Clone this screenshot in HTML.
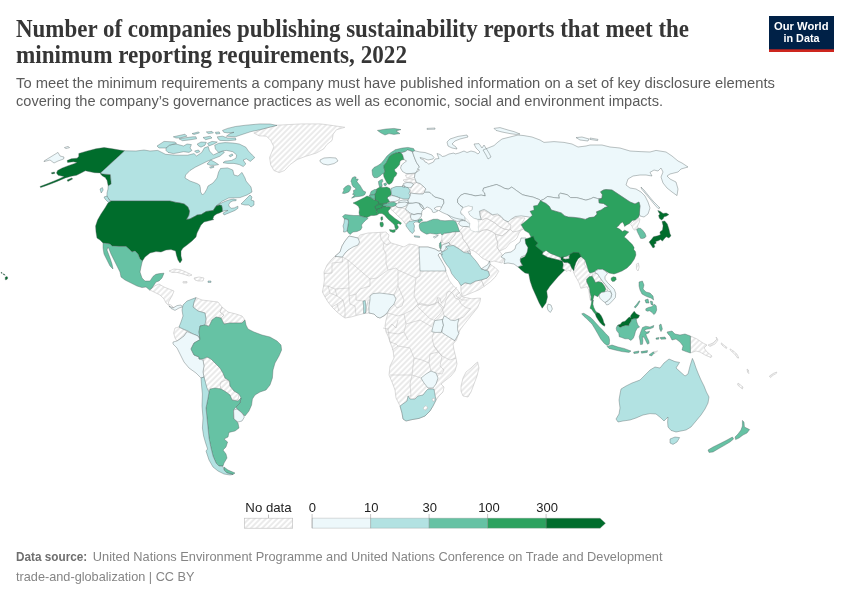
<!DOCTYPE html>
<html lang="en">
<head>
<meta charset="utf-8">
<title>Number of companies publishing sustainability reports that meet the minimum reporting requirements, 2022</title>
<style>
html,body{margin:0;padding:0;background:#fff;}
body{width:850px;height:600px;overflow:hidden;position:relative;}
svg{position:absolute;left:0;top:0;display:block;}
.title{font-family:"Liberation Serif",serif;font-weight:700;font-size:24.5px;fill:#363636;}
.sub{font-family:"Liberation Sans",sans-serif;font-size:14.75px;fill:#5b5b5b;}
.foot{font-family:"Liberation Sans",sans-serif;font-size:12.7px;fill:#858585;}
.leg{font-family:"Liberation Sans",sans-serif;font-size:13px;fill:#222;}
.logo{font-family:"Liberation Sans",sans-serif;font-weight:700;font-size:10.8px;fill:#fff;text-anchor:middle;}
.nd path{fill:url(#hatch);stroke:#b8b8b8;stroke-width:.5;stroke-linejoin:round;}
.bd path{fill:none;stroke:#bcbcbc;stroke-width:.5;stroke-linejoin:round;}
.ct path{stroke:#4d5c5c;stroke-opacity:.75;stroke-width:.5;stroke-linejoin:round;}
.wt path{fill:#fff;stroke:#b9c4c6;stroke-width:.4;}
</style>
</head>
<body>
<svg width="850" height="600" viewBox="0 0 850 600">
<defs>
<pattern id="hatch" patternUnits="userSpaceOnUse" width="4" height="4" patternTransform="rotate(-45 2 2)">
<rect width="4" height="4" fill="#fff"/>
<path d="M-1,2 l6,0" stroke="#ccc" stroke-width="0.8"/>
</pattern>
</defs>
<rect width="850" height="600" fill="#fff"/>

<text class="title" x="16" y="37" textLength="673" lengthAdjust="spacingAndGlyphs">Number of companies publishing sustainability reports that meet the</text>
<text class="title" x="16" y="62.6" textLength="391" lengthAdjust="spacingAndGlyphs">minimum reporting requirements, 2022</text>
<text class="sub" x="16" y="87.6" textLength="759" lengthAdjust="spacingAndGlyphs">To meet the minimum requirements a company must have published information on a set of key disclosure elements</text>
<text class="sub" x="16" y="105.8" textLength="647" lengthAdjust="spacingAndGlyphs">covering the company’s governance practices as well as economic, social and environment impacts.</text>

<g>
<rect x="769" y="16" width="65" height="36" fill="#002147"/>
<rect x="769" y="49.3" width="65" height="2.7" fill="#ce261e"/>
<text class="logo" x="801.3" y="30.4" textLength="54.5" lengthAdjust="spacingAndGlyphs">Our World</text>
<text class="logo" x="801.5" y="42.4" textLength="36" lengthAdjust="spacingAndGlyphs">in Data</text>
</g>

<g id="map">
<g class="nd"><path d="M349,236 L358,238 L360,235 L368,233 L380,232.4 L386,232 L389,235 L388,239 L391,243 L398,245 L404,247 L409,244 L416,245 L420,247 L428,247 L435,249 L439,251 L441,250 L442.4,255 L440,253 L438,255 L441,260 L445.3,270 L447,274.7 L449.4,280.6 L453,285.3 L457.6,290 L460.6,294.7 L461.8,296.5 L465.9,297.6 L471.8,298.8 L477.6,298.2 L480.6,298.2 L480,301.8 L477.6,307.6 L472.9,313.5 L468.2,319.4 L463.5,325.3 L460,330 L458.2,334.7 L456.5,340 L453,344 L454,350 L456,358 L457,364 L455,371 L451,376 L446,380 L441,384 L444,387 L443,392 L439,396 L436,400 L433,406 L430,411 L425,416 L419,418.4 L412,419.6 L406,421 L403,419 L402,413 L400,406 L399,404 L396,398 L395,390 L392,382 L389,375 L390,366 L394,358 L393,350 L390,342 L388,336 L386,332 L385,326 L386,320 L388,313 L384,316 L380,318 L377,317 L374,314 L369,313 L364,313.6 L358,315 L351,317 L345,318 L342,316 L337,312 L332,307 L328,302 L325,297 L322.4,292 L323.6,286 L324.4,280 L324,272 L327,265 L331,260 L335,256 L340,252 L342,246 L345,241Z"/><path d="M461,386 L463,378 L466,372 L471,368 L475,364 L477.6,362 L479,368 L477,376 L474,384 L471,392 L468,397 L463,396 L461,391Z"/><path d="M253.8,133 L263.3,128.8 L277.1,125.2 L301.4,123.9 L320.5,123.9 L333.2,125.6 L344.8,127.3 L336.4,129.8 L333.2,134.1 L332.1,140.4 L326.8,144.6 L323.7,148.9 L316.2,153.1 L305.7,156.3 L297.2,159.5 L289.8,164.8 L284.5,170.5 L279.2,172.6 L273.9,170.5 L270.7,164.8 L269.6,157.4 L271.8,152.1 L273.9,146.8 L270.7,140.4 L266.5,136.2 L259.1,135.8Z"/><path d="M169,271 L174,269 L180,269.6 L186,272 L192,275 L189,276 L183,274 L177,272.4 L172,272.4Z"/><path d="M194,278 L199,277 L204,278 L203,281 L198,281 L195,280Z"/><path d="M183,281.6 L187,281.6 L187,283 L183,283Z"/><path d="M149.6,290 L154.4,286 L159,284 L164,287 L169,289 L174,291 L172,296 L169,301 L168,304 L171,305 L174,308 L171,307.6 L166,303 L164,299 L160,295 L156,293 L152,291Z"/><path d="M196,297.6 L202,300 L210,301 L218,302 L222,307 L220,312 L224,315 L221,318 L216,317 L212,320 L209,326 L206,325 L206,319 L205,313 L198,311 L193,307 L194,302Z"/><path d="M222,307 L228,312 L236,314 L242,316 L245,320 L242,323 L236,323 L230,323 L224,324 L221,318 L224,315 L220,312Z"/><path d="M175,328 L179,327 L183,329 L187,331.6 L184,336 L180,339 L177,341 L175,338 L173.6,333Z"/><path d="M203,360 L207,357 L211,359 L216,364 L220,368 L223,373 L225,378 L229.6,381 L230,386 L226,384 L221,386 L220,389 L215,392 L210,393 L207,389 L205,384 L204,377 L203,372 L204,366Z"/><path d="M221,382 L226,380 L229,381 L230,386 L234,391 L239,394 L238,400 L232,400 L230,395 L226,392 L221,389 L220,385Z"/><path d="M405.5,175 L410,174 L415,173.5 L414.5,177.5 L410,178.5 L406.5,177.5Z"/><path d="M403,180 L407,179 L411,179 L415.5,180 L416.5,182.5 L413,183 L409,182 L405,182Z"/><path d="M413.5,184 L416.5,182.5 L420,183.5 L423,186 L426,189 L424.5,191.5 L423,194 L419,194 L414,193.5 L410.5,193 L410,190 L412,186.5Z"/><path d="M391,207.5 L395.5,205.8 L398,207.8 L402,207.8 L406,209.2 L407,211.8 L410,213.8 L410.5,216.5 L411.5,219 L409,221 L407,222.5 L405.5,224 L404,222 L402,219.5 L399,217 L396,214 L393,211 L391,209.5Z"/><path d="M442,234.5 L448,232.5 L456,231.5 L455,235 L452,238.5 L449,242.5 L445,244 L442,242 L441.8,240Z"/><path d="M440.5,241 L441.8,240 L442,242 L441,242.8Z"/><path d="M456,231.5 L459.5,231 L462,234 L463,239 L467,244 L469.5,249.5 L470,252 L467,251.5 L464,252 L460,249.5 L455,246 L450,244.5 L449,242.5 L452,238.5 L455,235Z"/><path d="M459.5,231 L463.5,226.5 L467,226.5 L469.5,227 L471,229 L474,231.5 L479,232 L483,230 L487,229.5 L492,231.5 L495.5,234 L496.5,239 L498,243 L497,247 L499.5,251 L504.5,258 L502,263 L498,262 L494,261 L490,262 L486,260 L482,258 L478,254 L474,251 L470,249.5 L467,244 L463,239 L462,234Z"/><path d="M475.5,220 L480,218 L482,220 L486,218 L490,220 L495,223 L500,227 L504.5,229 L509,230 L506,233 L502,236 L498,235 L495.5,234 L492,231.5 L487,229.5 L483,230 L479,232 L476,229 L474.5,225 L477,223Z"/><path d="M480,211.5 L484,210.5 L489,213 L494,216 L499,215.5 L503,219 L507,221.5 L511,223 L515,221 L518,222 L520,225 L515,226 L512,228 L509,230 L504.5,229 L500,227 L495,223 L490,220 L486,218 L482,220 L480,218 L481,215Z"/><path d="M495.5,234 L498,235 L502,236 L506,233 L509,230 L512,228 L515,226 L520,225 L524,224 L529,225 L526,227 L522,229 L519,233 L517,238 L515,240 L510,243 L506,248 L502,250 L499.5,251 L497,247 L498,243 L496.5,239Z"/><path d="M508,220 L516,217.6 L525,218 L521,225 L524,229 L518,231 L513,232 L510,229 L511,225 L508,223Z"/><path d="M460.9,285.7 L465,282.8 L470.2,284 L475.5,281.1 L481.3,279.9 L484.2,286.3 L479,289.8 L472,292.7 L465,295.6 L462.1,296.2 L460.9,291Z"/><path d="M490.1,264.2 L495.3,267.7 L498.8,271.2 L495.3,277 L490.6,281.6 L484.2,286.3 L481.3,279.9 L487.1,278.1 L489.5,275.2 L488.3,271.2 L487.1,269.8 L488.3,267.7Z"/><path d="M636.4,264 L638.4,263 L639.2,267 L638,271 L636.4,269Z"/><path d="M630.6,224.2 L633,221.7 L635.9,219.9 L638.7,217.8 L639.8,219.2 L639.4,222.1 L638,224.9 L637.3,227 L638.7,228.1 L636.6,229.1 L634.8,230.2 L633,228.8 L632,226.3Z"/><path d="M543,252 L546,249.7 L550.5,252.7 L555.7,255 L561,257.2 L561,259.8 L559.5,260.2 L553.5,258.7 L547.5,257.2 L542.2,254.2Z"/><path d="M563.2,256.8 L566.2,255.7 L569.2,256.5 L569.2,258.7 L565.5,259.2 L563.2,258.7Z"/><path d="M562.5,261 L564,262.5 L567.7,262.5 L570,264 L571.5,267.7 L570.7,271.5 L568.5,270 L567,271.5 L564.7,270 L562.5,268.5 L563.2,264.7Z"/><path d="M573.3,271.7 L576.7,265.8 L579.2,260 L582.5,256.7 L585,260 L584.2,264.2 L586.7,267.5 L589.6,270.4 L592.1,272.9 L592.5,275 L592.1,276.2 L589.2,276.7 L586.7,279.2 L586.7,281.7 L587.9,284.2 L589.6,288.3 L590,292.5 L590.8,296.7 L590.4,300 L589.6,296.7 L588.8,290 L586.7,286.7 L584.2,287.5 L580.8,288.3 L579.2,283.3 L577.1,279.2 L575,275.8Z"/><path d="M592.5,275 L595,272.9 L597.5,273.8 L598.8,275.8 L600.8,278.8 L602.9,281.7 L605,284.2 L607.1,287.5 L607.5,290.8 L605.8,289.2 L604.2,285.8 L601.7,282.5 L598.3,281.7 L595.4,282.5 L594.2,280 L592.1,276.2Z"/><path d="M653,352 L657.6,351 L654.4,353.6Z"/><path d="M690.4,336 L697,339 L703,343 L707,345 L704,348 L707,352 L712,356 L711,357.6 L705,355 L700,352 L696,351 L690.4,353Z"/><path d="M708,345 L713,343 L717,339 L716,337 L718,340 L715,344 L710,346.4Z"/><path d="M738,383 L743,387 L742.4,389 L737.6,385Z"/><path d="M747,369 L748.4,370 L748.8,373.6 L747.6,372.4Z"/><path d="M721.3,342.9 L723.9,345.1 L727,347.5 L726.4,348.5 L723.3,346.3 L721.3,344.3Z"/><path d="M730.2,348.9 L733.8,351.3 L737.3,354.6 L738.7,358.1 L737.3,357.8 L735.5,355 L732.4,352.2 L730.1,349.9Z"/><path d="M769.3,376.2 L773.3,373.4 L776.8,372 L776.4,373.4 L773,375.3 L770.5,377.6Z"/><path d="M423,408 L426,405.6 L428,408 L425,410.4Z"/><path d="M432,399 L434.4,398 L435,400.4 L433,401.6Z"/></g>
<g class="bd"><path d="M335,256.4 L342.4,257 L342.4,262 L332,263 L332,273 L324,273.6"/><path d="M342.4,257 L348,260 L349,288 L335,289 L328,286 L323.6,286"/><path d="M348,260 L370,279 L377,278 L388,270 L396,268"/><path d="M380,232.4 L381,239 L384,243 L383,248 L386,254 L386,263 L388,270"/><path d="M384,243 L387,245 L391,243"/><path d="M396,268 L398,270 L416,278 L420,276 L420,271"/><path d="M398,270 L398,286 L394,295"/><path d="M370,279 L370,286 L360,289 L356,294 L349,296 L349,288"/><path d="M416,278 L415,286 L414,296 L418,304 L428,306 L438,302 L444,308"/><path d="M457,287 L450,294 L446,300 L444,308 L440,314 L434,320"/><path d="M460,292 L456,296 L462,300 L467,300"/><path d="M398,286 L404,300 L402,306 L397,308 L394,304"/><path d="M418,304 L412,310 L404,314 L398,316 L388,313"/><path d="M356,294 L356,300 L363,301"/><path d="M349,296 L350,304 L355,306 L356,315"/><path d="M335,289 L337,296 L343,300 L345,308 L345,318"/><path d="M328,286 L330,293 L325,297"/><path d="M330,293 L337,296"/><path d="M337,304 L343,300"/><path d="M332,307 L337,304 L339,311"/><path d="M365.6,313 L368,300 L370,300"/><path d="M404,314 L406,324 L404,332 L398,334 L386,332"/><path d="M406,324 L420,320 L432,327"/><path d="M404,332 L408,340"/><path d="M461.8,296.5 L458.8,299.4 L461.2,304.1 L465.9,307.6 L470.6,308.8 L463.5,317.1 L458.8,318.8"/><path d="M458.8,299.4 L455.3,298.2 L452.9,293.5 L449.4,291.2 L447.1,292.4 L445.9,297.1 L441.2,302.9 L440,298.2 L437.6,297.6 L438.8,304.1 L442.4,308.8 L444.1,315.9"/><path d="M437.6,297.6 L435.3,304.1 L429.4,305.3 L423.5,304.1 L420,302.9 L417.6,306.5 L423.5,312.4 L429.4,318.2 L434.7,320.6"/><path d="M392,350 L398,346 L410,348 L414,358 L422,360 L429,363 L431,371"/><path d="M390,375 L402,375 L412,375 L421,378"/><path d="M412,375 L410,384 L411,396 L408,396"/><path d="M414,358 L413,366 L412,375"/><path d="M429,363 L430,354 L438,352 L442,356 L440,366 L444,370 L442,374 L436,373"/><path d="M434,332 L432,338 L434,346 L438,352"/><path d="M442,330 L446,334 L451,338 L455,341"/><path d="M434,346 L442,356"/><path d="M442,356 L450,360 L456,358"/><path d="M383,328 L388,329 L390,342"/><path d="M390,342 L396,344 L398,346"/><path d="M388,329 L392,324 L396,328 L398,320"/></g>
<g class="ct">
<path fill="#006d2c" d="M124.7,150.8 L119.4,150 L112.4,148.8 L104.1,147.6 L95.9,148.8 L86.5,151.2 L78.8,153.5 L78.8,156.5 L77.1,158.2 L71.2,158.8 L67.1,160.6 L67.6,162.4 L73.5,161.8 L77.1,162.4 L74.7,163.5 L67.6,165.9 L61.8,168.2 L57.6,170.6 L56.5,172.9 L58.2,175.3 L64.1,176.5 L59.4,178.8 L53.5,181.2 L46.5,184.1 L40,186.5 L40.6,187.6 L45.3,185.9 L51.2,183.8 L57.1,181.4 L61.8,179.4 L65.3,177.9 L71.2,176.2 L76.5,175.3 L80.6,173.2 L85.3,170.8 L90,171.8 L94.7,172.7 L100.6,172.9 L103,174 L110.4,174.6 L110.8,179 L111.2,184.1 L108.2,185.9 L107.1,180.6 L105.3,177.6 L102.4,175.9 L100.6,174.1 L100.6,172.9Z"/>
<path fill="#edf8fb" d="M44,161 L58,152.4 L60,156 L64,157 L63.6,159 L58,161 L54,163 L50,160 L44,161.6Z"/>
<path fill="#006d2c" d="M67.1,180 L71.8,177.9 L72.6,179.1 L67.9,181.4Z"/>
<path fill="#006d2c" d="M51.4,172.7 L54.5,172 L54.7,173.4 L51.9,173.9Z"/>
<path fill="#edf8fb" d="M64.4,147.6 L68,146.4 L69.6,147.6 L66,148.6Z"/>
<path fill="#006d2c" d="M5.2,277.2 L7,276.5 L7.9,278 L6.8,279.5 L5.3,279.8Z"/>
<path fill="#006d2c" d="M1,272.3 L2,272.6 L2.2,273.3 L1.2,273.2Z"/>
<path fill="#006d2c" d="M3,273.8 L4.4,274.2 L5.2,275.2 L3.6,274.8Z"/>
<path fill="#b2e2e2" d="M124.7,150.8 L136,151 L144,150 L150,151 L157.8,150.4 L165.5,154.3 L175.9,155.2 L187.5,155.2 L194,153.6 L196.6,156 L201.8,152.4 L204.4,147.8 L208.2,146.5 L209.5,151 L213.4,155 L218.6,152.4 L222.5,151 L224.4,152.4 L219.9,156.2 L213.4,158.8 L207,161.4 L201.8,164 L195.3,167.2 L190,170.5 L185.6,175 L185,178 L190,181 L197,183.5 L199.6,185 L200.3,187.5 L200.6,192 L202.5,195 L204.7,192.8 L206.8,189.2 L208,186 L213,183 L217,178 L218.6,172 L220.5,168.5 L227.6,167.9 L232.8,170 L234,175 L238,176 L242,172.4 L245,178 L246,181 L251,187 L252,192 L247,195 L240,197.6 L228.7,198 L222.3,201.2 L218.1,204.4 L216,206.2 L219.5,204 L223.8,201.9 L228,200.2 L230.8,199.5 L233.6,199.1 L236.5,199.8 L235.8,200.7 L232.9,200.9 L230.1,202.3 L228.7,204.8 L229.4,206.9 L231.5,208.3 L234.3,207.9 L237.9,206.2 L237.9,208.3 L235,210.4 L230.8,212.2 L226.6,213.9 L224.1,215 L223,213.2 L225.2,211.8 L228,210.4 L225.2,210.5 L222.3,211.5 L222.2,208.3 L221.6,205.5 L219.5,205.1 L216,206.2 L213.2,210.4 L206.1,211.5 L201.2,214.6 L197,215 L195.5,216 L189.9,218.9 L186.4,219.6 L188.8,215.3 L189.5,211.1 L187.8,206.9 L184.2,204 L180,203 L176,202.4 L170,201 L111,201 L109,199 L107,197 L107,193 L108,189 L108.2,185.9 L111.2,184.1 L110.8,179 L110.4,174.6 L103,174 L100.6,172.9Z"/>
<path fill="#b2e2e2" d="M241,204 L246,199 L250,195 L252,197 L251,200 L254,201 L254,205 L251,207 L249,205 L245,205Z"/>
<path fill="#b2e2e2" d="M104,197 L107,196 L110,201 L111,204 L108,202 L105,199Z"/>
<path fill="#b2e2e2" d="M100,189 L102.4,187.6 L103.2,190 L101.2,193Z"/>
<path fill="#b2e2e2" d="M222.5,130.4 L227.6,128.4 L235.4,126.5 L245.8,125.2 L260,123.9 L270,124 L277,125.4 L268,127.6 L260,129.7 L251,131.6 L243,134.2 L235.4,136.8 L226.4,136.2 L230,133.6 L234,132.3 L227.6,132.9 L223.8,132.3Z"/>
<path fill="#b2e2e2" d="M166,148 L169.4,145 L176,144 L183.6,146 L187,144 L191.4,144.6 L190,148 L192,150.4 L189,152.4 L183.6,151.7 L177,153 L173.3,153.6 L168,152.4 L166,150.4Z"/>
<path fill="#b2e2e2" d="M157,146 L164,141.4 L174.6,142 L176.5,143.3 L169.4,145.2 L166,148 L159,148Z"/>
<path fill="#b2e2e2" d="M173.3,136.8 L185,134.2 L187,136.2 L179.8,138 L176,138Z"/>
<path fill="#b2e2e2" d="M179,138.8 L183.6,138 L192.7,136.8 L196,136.8 L196.6,138.8 L188.8,140 L182.4,140.7Z"/>
<path fill="#b2e2e2" d="M192,133.6 L198.5,131.9 L199.4,132.9 L194,134.5Z"/>
<path fill="#b2e2e2" d="M203,137.5 L210.2,136.2 L212,138 L205.6,139.7Z"/>
<path fill="#b2e2e2" d="M206.3,131.9 L212,131.4 L213.4,132.9 L208.2,133.6Z"/>
<path fill="#b2e2e2" d="M215.4,132.3 L219.2,131.9 L220,133.6 L216,134Z"/>
<path fill="#b2e2e2" d="M197.2,144 L201,142 L206.3,142.3 L205,145.2 L201,147.2 L198.5,145.9Z"/>
<path fill="#b2e2e2" d="M207.6,143.3 L212,141.4 L217.3,142 L214,144 L208.9,145.9Z"/>
<path fill="#b2e2e2" d="M194.6,151 L198.5,150 L199.8,151.7 L196.6,153Z"/>
<path fill="#b2e2e2" d="M217.3,136.8 L222.5,136.2 L227.6,138 L235.4,138 L236,140 L227.6,140.7 L219.9,140.4 L218,138.8Z"/>
<path fill="#b2e2e2" d="M214.7,145.2 L218.6,143.3 L225,142.6 L232.8,143 L239.3,144 L245.8,147.2 L248.4,151 L252.2,155 L254.8,157.5 L250.3,161.4 L246.4,158.8 L243.2,160 L245.8,164 L243.2,166.6 L239.3,164.6 L234,163.4 L227.6,163.4 L223,162.7 L225,161.2 L231.5,160.4 L236,158.2 L236.7,155 L232.8,151.7 L226.4,150.4 L222.5,151 L218.6,152.4 L215.4,149Z"/>
<path fill="#b2e2e2" d="M229,155.6 L232.2,153.9 L233,155.2 L230.2,156.9Z"/>
<path fill="#b2e2e2" d="M207,164 L210.8,160 L214.7,162 L218.6,164.6 L214.7,165.3 L210.2,165.3Z"/>
<path fill="#b2e2e2" d="M209.5,167.2 L213.4,166 L214,167.2 L210.8,168.2Z"/>
<path fill="#edf8fb" d="M320,160 L324,158 L330,157.6 L336,158 L338,161 L334,163.6 L328,165 L323,164 L320,161.6Z"/>
<path fill="#006d2c" d="M111,201 L170,201 L176,202.4 L180,203 L184.2,204 L187.8,206.9 L189.5,211.1 L188.8,215.3 L186.4,219.6 L189.9,218.9 L195.5,216 L197,215 L201.2,214.6 L206.1,211.5 L213.2,210.4 L216,206.2 L219.5,205.1 L221.6,205.5 L222.2,208.3 L222.3,211.5 L219.5,212.9 L216.7,213.9 L213.9,216 L212.8,218.9 L213.9,219.6 L208,221 L204,222 L201,225 L199,229 L197,233 L196,237 L192,241 L187,245 L183,248 L181,251 L181,256 L182,260 L180,263 L178,260 L176.4,255 L175.6,251 L171,249.6 L166,250 L161,252 L156,251.6 L150,253 L145,257 L142.4,261 L140,259 L138,254 L135,251 L132,252 L129,249 L126,246.4 L119,246.4 L112,246 L110,244 L103,243 L100,240 L97,238 L96,232 L95.6,226 L97.6,220 L101,214 L105,208 L108,203Z"/>
<path fill="#66c2a4" d="M103,243 L110,244 L112,246 L119,246.4 L126,246.4 L129,249 L132,252 L135,251 L138,254 L140,259 L142.4,261 L141,267 L140,272 L142,278 L145,281 L150,281 L153,276.4 L155.9,274.3 L159.6,273.6 L164,273.2 L162,278 L159,281 L156,282 L154,285 L152,288 L149.6,290 L146,287 L142,287.6 L137,286 L131,283 L125,280 L121,277 L120,272 L117,266 L114,260 L111,254 L109,249 L108,247 L107,250 L110,258 L112,264 L113,269 L110,266 L107,260 L104,254 L103,248Z"/>
<path fill="#b2e2e2" d="M208,281 L211,281 L211,282.4 L208,282.4Z"/>
<path fill="#edf8fb" d="M169,306 L173,308 L177,305.6 L181,305 L182.4,307 L179,308 L175,310.4 L171,308.4Z"/>
<path fill="#b2e2e2" d="M183,305 L187,301 L196,297.6 L194,302 L193,307 L198,311 L205,313 L206,319 L205,325 L200,326 L199,332 L200,339 L198,336 L193,334 L188,331 L183,329 L179,327 L181,322 L183,316 L182,310Z"/>
<path fill="#edf8fb" d="M173,342 L177,341 L180,339 L184,336 L187,331.6 L193,334 L198,336 L200,339.6 L194,343 L191,349 L194,355 L199,357 L199,359 L203,360 L204,366 L203,372 L204,377 L201,378 L196,373 L189,368 L184,362 L180,354 L177,348 L173,344Z"/>
<path fill="#66c2a4" d="M200,326 L205,325 L209,326.4 L212,320 L216,317 L221,318 L224,324 L230,323 L236,323 L242,323 L245,320 L246,325 L248,329 L254,332 L262,335 L270,337 L277,341 L281,345 L281.6,350 L279,356 L275,363 L273,370 L272.4,378 L270,385 L266,390 L260,392 L255,395 L252.4,399 L251.6,405 L249,411 L245,416 L242,413 L237,409 L236,407 L240,403 L241,398 L239,394 L234,391 L230,386 L229.6,381 L225,378 L223,373 L220,368 L216,364 L211,359 L207,357 L203,359 L199,359 L199,357 L194,355 L191,349 L194,343 L200,339.6 L199,332Z"/>
<path fill="#66c2a4" d="M210,389 L215,388 L221,389 L226,392 L230,395 L232,400 L238,401 L241,398 L240,403 L236,407 L233.6,410 L233.6,418 L238,423 L239,428 L235,431 L229,432.4 L228,437 L224,439 L227.6,442 L226,447 L223,450 L226,454 L227,458 L224,463 L223,466 L219,466 L216,463 L213,456 L211,448 L209,438 L208,428 L207,418 L206,408 L208,398 L209,392Z"/>
<path fill="#66c2a4" d="M224,467 L228,470 L235,473 L233,474.4 L227,473 L224,470Z"/>
<path fill="#b2e2e2" d="M201,378 L204,377 L207,388 L209,392 L208,398 L206,408 L207,418 L208,428 L209,438 L211,448 L213,456 L216,463 L219,466 L223,466.4 L224,470 L227,473 L233,474.4 L230,475 L224,474 L218,471 L213,467 L209,460 L207,454 L206,451 L207.6,449 L205.6,443 L203.6,436 L202.4,428 L203,418 L202,406 L202.4,394 L201.6,386Z"/>
<path fill="#edf8fb" d="M233.6,410 L237,409 L242,413 L244.4,417 L242,421 L238,422 L234,419Z"/>
<path fill="#66c2a4" d="M377.4,130.4 L386,129 L394,128.4 L401,129.6 L396,131 L400,133.6 L394,134.4 L389,133.6 L385,135 L381,133Z"/>
<path fill="#66c2a4" d="M372,170 L374,167.5 L378,165.5 L381,163.5 L384,160 L387,156 L391,152.5 L395,150 L395,149.8 L399,148.8 L402.5,148 L408,147.4 L413.5,148.5 L414.8,150.8 L413,151.8 L410,150.5 L407.5,150 L405.5,151.5 L403.5,152.2 L401,152.8 L398,152.5 L395.5,153.3 L396,153 L392,154.5 L389.5,156.5 L388,159.5 L386.5,162.5 L384,165.5 L384,168 L385,171 L384,173.5 L382,174 L380,176 L377,177.8 L374,177.5 L372.5,175Z"/>
<path fill="#2ca25f" d="M396,153 L400,152.5 L398,152.5 L401,152.8 L402.5,154.5 L403,156 L404,159.5 L401.5,160 L400,161.5 L399.5,164.5 L397,167.5 L394.5,169.5 L395,171.5 L397,173 L396,175.5 L394,177.5 L393,180.5 L391.5,183 L389,184.5 L387,183 L385.5,180 L384,177 L383.5,174.5 L385,171.2 L384,168 L384,165.5 L386.5,162.5 L388,159.5 L389.5,156.5 L392,154.5Z"/>
<path fill="#edf8fb" d="M401,152.8 L403.5,152.2 L405.5,151.5 L407.5,150 L410,150.7 L412.5,152 L413.5,155 L415,159 L416.5,162.5 L419.5,167 L417.5,170 L415.5,173 L411,173.5 L406,173.5 L402.5,171.5 L400.5,168 L401.5,165 L404.5,162.5 L406.5,161 L404,159.5 L403,156 L402.5,154.5Z"/>
<path fill="#66c2a4" d="M378.4,181.6 L380.2,180.2 L382.3,179.2 L382.9,181.3 L381.6,183.1 L382.2,185.2 L382,186.8 L379.6,187.1 L378.8,184.5Z"/>
<path fill="#66c2a4" d="M383.7,183.8 L385.5,183.1 L386.9,184.1 L385.8,185.7 L384.4,185.4Z"/>
<path fill="#66c2a4" d="M350.9,181.3 L352.3,177.8 L354.4,176.7 L356.2,177.1 L355.5,178.8 L358.3,179.2 L356.9,181.6 L358.6,183.8 L360.1,185.5 L361.8,188.4 L363.2,190.8 L365.7,191.9 L365,194.4 L362.9,195.8 L359,196.5 L355.5,196.8 L351.6,198.2 L353,196.5 L355.1,195.1 L352.6,194.4 L353.7,192.6 L353.4,190.5 L355.8,189.4 L355.5,188 L353.4,186.9 L351.9,184.5 L351.6,182.7Z"/>
<path fill="#66c2a4" d="M342.4,193.3 L343.8,190.5 L343.5,188.7 L345.6,186.6 L348.1,185.2 L350.2,185.9 L350.9,187.6 L350.2,190.1 L348.8,191.9 L346.3,192.9 L344.2,193.6Z"/>
<path fill="#edf8fb" d="M403.5,183.5 L407,182.5 L411,182.8 L413.5,184 L412,186.5 L410,187.8 L406,187.5 L404,185.5Z"/>
<path fill="#b2e2e2" d="M391,188.5 L396,186.5 L402,186.5 L408,187.5 L410,190.5 L409,193.5 L410.5,196.5 L409,199 L404,199 L400,198 L396,196.5 L392,195.5 L391,192Z"/>
<path fill="#edf8fb" d="M388.5,196.5 L392,195.5 L396,196.5 L400,198 L399,200 L395,201.5 L391,201.5 L389.5,202 L388.5,200 L387,198Z"/>
<path fill="#edf8fb" d="M399,201 L403,200 L408,200.2 L408.5,203 L405,202.8 L401,203.3 L398.5,202.5Z"/>
<path fill="#edf8fb" d="M396.5,203.5 L400,202.5 L405,202 L408,203 L406,206 L402,207.5 L398,207.5 L395.5,205.5Z"/>
<path fill="#edf8fb" d="M408.5,203.5 L412.5,203 L416,202.5 L419,203 L420.5,206 L422.5,208.5 L424,209 L422,211 L421.5,214 L418,213.5 L414,214.5 L411,213.5 L408,211.5 L405.5,209 L407,206Z"/>
<path fill="#edf8fb" d="M419.5,203.5 L422,205 L423.5,207.5 L422.5,208.5 L420.5,206Z"/>
<path fill="#edf8fb" d="M411,214 L414,214.7 L418,213.7 L421.8,214.2 L421,217 L418.5,219 L417.5,220.5 L414.5,220.5 L411.5,219.5 L410.5,217Z"/>
<path fill="#edf8fb" d="M410.5,193 L414,193.5 L419,194 L423,194 L425,192 L429.5,192 L432,194.5 L435,197 L439,198 L443.5,199.5 L444,203 L442.5,205.5 L441.5,207.6 L439.7,206.5 L436.8,206.8 L434.4,208.2 L434.7,209.1 L436.2,210 L438.5,210.5 L435.6,212.1 L433.8,212.6 L432.6,212.1 L431.8,209.7 L429.7,208.2 L427.6,207.1 L425.9,207.6 L424.5,209.3 L423.5,207.5 L422,205 L419,203 L416,202.5 L412.5,203 L408.5,203 L408,200 L409,198.5 L410.5,195Z"/>
<path fill="#2ca25f" stroke="none" d="M374.5,200 L378.5,201.5 L384,203.5 L387,203.2 L386,206.2 L385,206.8 L382,208 L378.5,209.5 L376.5,211 L375.2,208.5 L374.8,206.5 L376.5,205.2 L378,203.5Z"/>
<path fill="#2ca25f" d="M376.5,189 L380,187 L383,187.5 L387,187 L390,188.5 L391,192 L391,195 L388.5,196.5 L387,198 L388.5,200 L389.5,202 L387,203 L384,203.5 L381,204 L378.5,203 L378,201 L375,200 L375,197 L374.5,194.5 L376,192Z"/>
<path fill="#66c2a4" d="M371,191.5 L374.5,189.5 L376.5,189.5 L376,192 L374.5,194.5 L372,195 L370,194.5Z"/>
<path fill="#66c2a4" d="M369,195 L372,195 L374.5,194.5 L375,197 L375,199.5 L372,198.5 L370,197Z"/>
<path fill="#2ca25f" d="M353,203 L356.5,201.5 L359.5,200 L361.5,199 L364.5,197.5 L367,196 L370,197 L372,198.5 L374.5,200 L378,201 L378.5,203 L377,205 L375,206.5 L375.5,208.5 L376.5,210.5 L377,212.5 L378.5,214 L377,215 L374,215.5 L371,215.5 L369,216.5 L367,217.5 L363,216.8 L359.5,215.5 L359,212.5 L359.5,209 L358.5,206.5 L356,204.5Z"/>
<path fill="#2ca25f" d="M381,217 L382.5,216.8 L382.8,219.5 L381.5,220.5 L380.8,219Z"/>
<path fill="#2ca25f" d="M380,222.5 L382.5,222 L383.5,224 L383,226.5 L381,227 L380,225Z"/>
<path fill="#2ca25f" d="M375,206.5 L377.5,205 L380,204.5 L382.5,205.5 L382,207.5 L379.5,208.5 L376.5,209 L375.5,208.5Z"/>
<path fill="#66c2a4" d="M383,204.5 L387,203.5 L390,202.5 L394,202 L396.5,203.5 L395.5,205.5 L393,206.5 L389,206.5 L386,206 L383,206Z"/>
<path fill="#2ca25f" d="M376.5,210.5 L378.5,209 L382,207.8 L385,206.5 L389,206.8 L391,207.5 L389.5,209.5 L388,211 L389,213.5 L392,216 L395,218.5 L398,220.5 L401.5,223 L400.5,224.5 L398.5,223.5 L397,224.5 L398.5,227 L397.5,229 L396,230 L395,227.5 L394.5,225 L392,222.5 L389,220 L386.5,217.5 L384.5,215 L382,213.5 L379.5,213.5 L378.5,214 L377,212.5Z"/>
<path fill="#2ca25f" d="M389.5,229.5 L392.5,230 L395.5,229.5 L395,232 L393,232.5 L390,231.2Z"/>
<path fill="#66c2a4" d="M342.5,216.5 L345,214.5 L349,215 L354,215.5 L359,215.5 L363,216.8 L367,217.5 L368,218.5 L366,220 L363.5,222.5 L361.5,225 L362,227.5 L360.5,230 L357,231.5 L353,232 L350,234.5 L348.5,233 L347,231 L347.5,228 L348,225 L348.5,222 L348,219.5 L344.5,219Z"/>
<path fill="#b2e2e2" d="M344.5,219 L348,219.5 L348.5,222 L348,225 L347.5,228 L347,231 L345,232 L343.5,232 L343.8,229 L343,226 L344,223Z"/>
<path fill="#b2e2e2" d="M406,224.5 L409,221.5 L412,221 L415,220.5 L419,220 L418,222 L415,222 L413.5,223.5 L414.5,226 L414,229 L414.5,231 L412.5,233.5 L410.5,232 L409,230 L407.5,228 L406,226Z"/>
<path fill="#b2e2e2" d="M414.2,235.8 L419.6,236.3 L419.6,237.5 L414.6,237Z"/>
<path fill="#66c2a4" d="M418.3,220.4 L419.6,219.2 L421.7,218.8 L422.5,220.4 L420.8,221.3 L419.6,223 L418.3,222.5Z"/>
<path fill="#66c2a4" d="M419.6,223.8 L422.5,222 L426.7,221.7 L430,220.4 L433.3,219.3 L437.5,219.2 L440.8,220.4 L445,220.8 L450,220.4 L453.3,220.4 L455.8,221.7 L457,224.2 L458,227 L459.6,231.7 L456.7,231.7 L452.5,232 L448.3,232.9 L444.2,233.3 L442,235 L440.4,233.3 L436.7,234.2 L433.3,233.8 L430,233.3 L426.7,234.2 L423.3,232.5 L420.8,230.8 L419.6,228.3 L419.2,225.8Z"/>
<path fill="#edf8fb" d="M433.3,237 L435.8,236 L438.3,235 L436.7,237 L434.6,238Z"/>
<path fill="#edf8fb" d="M447,214 L452,215.5 L457,217.5 L461,218.5 L463,220.5 L460,221 L457,221.5 L454,220 L451.5,218.5 L449,216Z"/>
<path fill="#edf8fb" d="M458.5,224 L460,221 L463,220.5 L466,221 L468.5,223 L470,224 L469.5,227 L467,226.5 L463.5,226.5 L461,226Z"/>
<path fill="#edf8fb" d="M442,245 L445,244 L449,242.5 L450,244.5 L446.5,247 L444,251 L441,252.5 L440.5,250Z"/>
<path fill="#66c2a4" d="M439.6,243.3 L440.8,242 L441.3,245 L440.7,249 L439.8,248.3 L439.3,245.8Z"/>
<path fill="#b2e2e2" d="M447.5,246.1 L453.3,245.5 L459.2,249 L463.8,252.5 L468.5,253.1 L470.2,254.2 L472.6,257.2 L476.1,261.2 L479,265.3 L481.3,268.8 L484.8,270 L488.3,271.2 L489.5,275.2 L487.1,278.1 L481.3,279.9 L475.5,281.1 L470.2,284 L465,282.8 L460.9,285.7 L458.6,281.6 L455.1,278.1 L451.6,273.5 L449.8,268.8 L446.3,264.2 L443.4,259.5 L441.1,254.8 L441.1,252.5 L444.6,250.7 L447.5,249 L445.7,246.7Z"/>
<path fill="#edf8fb" d="M467.6,251.1 L469.7,250.7 L470.6,253.7 L468.5,253.2Z"/>
<path fill="#edf8fb" d="M481.3,268.8 L484.8,266.5 L487.7,264.7 L489.5,261.2 L490.1,264.2 L488.3,267.7 L487.1,269.8 L484.8,270Z"/>
<path fill="#edf8fb" d="M526,238 L527,244 L529,250 L526,255 L521,257 L520,260 L522,265 L518,267 L514,264 L508,263 L504,263.6 L505,259 L501,257 L505,253 L511,252 L515,249 L516,245 L520,242 L521,238Z"/>
<path fill="#edf8fb" d="M414.8,150.8 L420,152 L425,152.5 L432,155 L434,157.5 L433,159 L428,160 L424,158.5 L420,157.5 L420.5,158.5 L424,160 L425,162 L427,162.5 L428.5,164.2 L433.5,162 L435,159 L439,158.5 L437,153.5 L440,154.5 L442.5,156.5 L445,156 L449,154 L454,153 L455,154 L459,153 L464,151 L467,152.5 L471,151 L475,152 L478,154 L480,152 L476,148 L474,144 L479,143.6 L482,148 L484,145 L489,153 L491,157 L488,159 L486,155 L483,150 L488,148 L494,145.6 L498,142 L502,139 L510,137 L518,135 L524,135.6 L532,137 L540,140 L544,142.4 L554,141.6 L564,142.4 L572,144 L578,147 L586,146 L590,145 L602,145 L610,147 L620,148 L630,151 L640,151.6 L650,152 L656,150.4 L666,152 L672,156 L678,161 L682,163 L688,167 L681,169 L678,172 L670,174 L667,176 L670,179 L676,182 L678,189 L677,195.6 L672,192 L667,188 L663,183 L661,177 L663,172 L661,168 L658,171 L654,170 L650,172.4 L652,176 L646,175 L640,175 L633,176 L628,179 L626,185 L630,188 L636,189 L641,192 L645,196 L648,202 L650,208 L648,214 L644,217 L640,216 L639,213 L640,206 L639,202 L635,204 L630,202 L624,198 L618,194 L612,190 L606,189.6 L603.5,190 L600.6,191.8 L602.4,194.7 L601.8,198.6 L597.6,198.6 L593.5,197.4 L590.6,198.8 L585.9,200.2 L581.2,198.8 L576.5,197.6 L570.6,197.6 L567.1,194.7 L560.6,193.2 L558.8,194.7 L559.4,198.2 L554.1,197.6 L547.6,196.5 L543.5,199.4 L540.6,200.6 L538.8,199.4 L533,197.1 L527.1,195.9 L522.4,194.7 L516.5,190.6 L511.8,187.1 L508.2,189.2 L504.1,188.2 L501.2,186.5 L496.5,184.5 L489.4,186.5 L483.5,188.2 L482.9,191.2 L484.7,192.9 L485.3,195.9 L481.2,195.1 L475.3,195.9 L470.6,194.7 L464.7,193.5 L460.6,195.3 L457.6,199.4 L457.6,202.4 L460,205.3 L462.9,207.1 L460.6,211.8 L461,214 L463,215 L465,217 L465,221 L463,219.5 L459,219 L455,218 L451,216.5 L447,214.5 L442.6,212.6 L439.2,210.7 L440.3,209.7 L441.5,207.6 L442.5,205.5 L444,203 L443.5,199.5 L439,198 L435,197 L432,194.5 L429.5,192 L425,192 L424.5,191.5 L426,189 L423,186 L420,183.5 L416.5,182.5 L415.5,180 L414.5,177.5 L415,173.5 L419.5,170 L417.5,169 L419.5,167 L416.5,162.5 L415,159 L413.5,155 L412.5,151.7Z"/>
<path fill="#edf8fb" d="M447,142 L450,139 L458,136.4 L467,135 L468,137 L460,139 L455,141 L452,144 L456,147 L457,149 L452,148 L448,146Z"/>
<path fill="#edf8fb" d="M494,128.4 L500,127.6 L508,130 L514,131.6 L520,134 L516,134.4 L510,133.6 L502,132 L496,130.4Z"/>
<path fill="#edf8fb" d="M427,128.4 L435,128 L435,129.2 L427,129.4Z"/>
<path fill="#edf8fb" d="M576,137.6 L582,137 L589,139 L588,141 L580,140Z"/>
<path fill="#edf8fb" d="M590,138 L598,139.4 L597.6,140.6 L590,139.4Z"/>
<path fill="#edf8fb" d="M641,187 L644,190 L648,195 L653,201 L657,205 L660,208 L658,208.4 L654,204 L650,199 L645,193 L641.6,189Z"/>
<path fill="#edf8fb" d="M402.5,185 L404,185.5 L405,187 L402.5,186.8Z"/>
<path fill="#edf8fb" d="M457.6,199.4 L460.6,195.3 L464.7,193.5 L470.6,194.7 L475.3,195.9 L481.2,195.1 L485.3,195.9 L484.7,192.9 L482.9,191.2 L483.5,188.2 L489.4,186.5 L496.5,184.5 L501.2,186.5 L504.1,188.2 L508.2,189.2 L511.8,187.1 L516.5,190.6 L522.4,194.7 L527.1,195.9 L533,197.1 L538.8,199.4 L540.6,200.6 L538.5,205.5 L535,211 L535.5,216 L530.6,217.4 L527.1,216.7 L521.2,215.9 L515.3,216.5 L511.8,218.8 L508.2,221.8 L504.1,220 L501.2,216.5 L497.6,214.1 L492.4,214.7 L488.2,211.8 L484.1,209.4 L479.4,211.2 L480,215.3 L481.2,219.4 L477.6,219.4 L473.5,218.2 L469.4,214.7 L468.2,211.8 L471.8,210 L472.4,206.8 L468.2,206.1 L463.5,207.6 L462.9,207.1 L460,205.3 L457.6,202.4Z"/>
<path fill="#edf8fb" d="M540.6,200.6 L543.5,199.4 L547.6,196.5 L554.1,197.6 L559.4,198.2 L558.8,194.7 L560.6,193.2 L567.1,194.7 L570.6,197.6 L576.5,197.6 L581.2,198.8 L585.9,200.2 L590.6,198.8 L593.5,197.4 L597.6,198.6 L601.8,198.6 L598.8,199.4 L599.1,202.9 L603.5,203.5 L608.2,206.5 L604.7,207.6 L601.2,210 L596.5,211.8 L597.1,214.1 L594.1,217.1 L589.4,217.6 L585.3,219.4 L580,218.2 L574.1,217.4 L568.2,217.1 L564.7,215.9 L561.2,212.9 L555.3,211.2 L551.2,210 L549.4,206.5 L545.9,203.5 L542.4,201.8Z"/>
<path fill="#2ca25f" d="M540.6,200.6 L537.6,205.3 L533.5,205.9 L534.1,210 L530,211.2 L532.4,215.3 L527.1,220 L521.2,224.7 L524.7,230.6 L529,233 L531,237 L534,240.6 L537,243.6 L534.4,246.4 L538.4,249.6 L542.4,252.8 L546,250.4 L550.4,253.4 L555.8,255.6 L561,257.8 L566.2,256.4 L570,254.8 L573.8,252.8 L579,253.2 L581.2,256.8 L585,260 L587,266 L589,272 L590,273 L594,272 L598,269 L604,270 L609,273 L614,274 L617,273 L622,271 L627,268 L631,264 L634.4,259 L635.9,255 L635.5,251.7 L633.8,249.6 L634.1,247.5 L632.3,244.6 L629.5,241.8 L626.7,239 L624.2,236.9 L626.7,234.1 L628.8,231.9 L624.6,230.2 L622.5,231.6 L619.6,229.1 L616.5,227.4 L618.9,225.6 L620.3,223.5 L622.5,222.1 L623.9,224.2 L624.6,226.6 L626.7,224.9 L629.5,223.5 L632.3,220.6 L635.2,219.9 L638.7,217.1 L639.4,214.5 L640,206 L639,202 L635,204 L630,202 L624,198 L618,194 L612,190 L606,189.6 L603.5,190 L600.6,191.8 L602.4,194.7 L601.8,198.6 L598.8,199.4 L599.1,202.9 L603.5,203.5 L608.2,206.5 L604.7,207.6 L601.2,210 L596.5,211.8 L597.1,214.1 L594.1,217.1 L589.4,217.6 L585.3,219.4 L580,218.2 L574.1,217.4 L568.2,217.1 L564.7,215.9 L561.2,212.9 L555.3,211.2 L551.2,210 L549.4,206.5 L545.9,203.5 L542.4,201.8 L540.6,200.6Z"/>
<path fill="#2ca25f" d="M611.2,277.9 L613.3,276.8 L615.8,277.3 L616.2,279.2 L614.6,281.2 L612.5,281.5 L611.2,280Z"/>
<path fill="#66c2a4" d="M636.6,229.5 L638.7,228.3 L640.8,228.4 L642.9,230.5 L645,233.3 L646.1,236.2 L644.7,237.9 L642.2,238.6 L640.5,238.3 L639.4,235.8 L638.3,233.7 L637.3,231.6Z"/>
<path fill="#006d2c" d="M657.8,210.4 L660.4,211.4 L663.1,213.5 L666.2,213 L668.9,214.6 L666.2,216.2 L664.1,216.7 L663.1,218.8 L661.5,219.9 L659.4,218.3 L658.6,215.6 L659.9,214.1 L658.8,212.5Z"/>
<path fill="#006d2c" d="M662,221.5 L664.7,220.9 L667.3,224.1 L668.9,228.9 L669.9,233.6 L671,235.8 L668.9,237.9 L666.2,236.8 L664.1,238.9 L662.5,241.1 L660.4,239.5 L658.8,240.5 L655.7,241.6 L656.2,243.2 L654.1,244.2 L654.8,246.9 L653,247.9 L650.9,244.8 L649.1,242.1 L651.4,239.5 L653.5,236.8 L657.8,235.8 L660.4,234.7 L659.9,232.1 L662.5,229.9 L663.1,225.7Z"/>
<path fill="#006d2c" d="M525,239.2 L529.5,237.7 L533.2,236.2 L534.7,240 L537.7,243 L535.5,246 L539.2,249 L543,252 L542.2,254.2 L547.5,257.2 L553.5,258.7 L559.5,260.2 L562.5,261 L563.2,264.7 L562.5,268.5 L564.7,270 L561.7,273 L558,276.7 L553.5,282 L549.7,286.5 L546.7,291 L547.5,297 L546,303 L542.2,308.2 L539.2,303 L536.2,296.2 L532.5,288 L530.2,281.2 L528.7,273.7 L525,273 L521.2,270 L518.2,267 L522.7,265.5 L520.5,261.7 L520.5,258.7 L525,256.5 L527.2,252 L528,247.5 L525.7,243.7Z"/>
<path fill="#006d2c" d="M562.5,261 L561,259.8 L561,257.2 L563.2,256.8 L563.2,258.7 L565.5,259.2 L569.2,258.7 L569.2,256.5 L570,254.2 L573.7,252.3 L579,252.7 L581.2,256.5 L578.2,258.7 L576,262.5 L574.5,267 L573.7,270.7 L571.5,267.7 L570,264 L567.7,262.5 L564,262.5Z"/>
<path fill="#edf8fb" d="M548,304 L551,305 L552.4,309 L550.4,312.4 L548,310.4 L547.2,307Z"/>
<path fill="#edf8fb" d="M595.4,270.8 L598.3,269.6 L602.5,269.2 L605.4,271.2 L607.5,273.3 L605,276.7 L605,279.2 L607.5,282.5 L610.8,285.8 L614.2,289.2 L615.7,293.3 L615.4,297.5 L612.5,300.8 L609.2,304.2 L606.7,305 L605,302.5 L608.3,300.4 L610.8,297.5 L611.7,294.2 L610.4,290.8 L607.9,287.9 L605.4,284.6 L602.9,281.7 L600.8,278.8 L598.8,275.8 L597.5,273.8 L595,272.9Z"/>
<path fill="#edf8fb" d="M599.2,294.2 L601.7,292.3 L604.6,291.8 L607.5,291 L610.4,291.7 L611.7,294.2 L610.8,297.5 L608.3,300.4 L605,302.5 L602.5,300.8 L600,298.3 L599.2,296.2Z"/>
<path fill="#2ca25f" d="M586.7,279.2 L589.2,276.7 L592.1,276.2 L594.2,280 L595.4,282.5 L598.3,281.7 L601.7,282.5 L604.2,285.8 L605.8,289.2 L604.6,291.7 L601.7,292.1 L599.2,294.2 L597.9,296.7 L595.8,295.8 L594.2,295 L593.3,298.3 L592.5,301.7 L593.3,300 L592.9,304.2 L593.8,307.5 L595.4,310.8 L597.1,312.5 L595.4,314.2 L593.3,311.7 L591.7,309.2 L590,308.3 L591.2,304.2 L591.8,300 L590.8,300.8 L591.2,296.7 L590,292.5 L589.6,288.3 L587.9,284.2 L586.7,281.7Z"/>
<path fill="#006d2c" d="M595.4,314.2 L597.1,312.5 L599.2,313.3 L601.2,315.8 L602.9,319.2 L603.8,322.5 L605,324.6 L604.6,326.2 L602.5,325 L600,322.5 L597.9,319.6 L596.2,316.7Z"/>
<path fill="#006d2c" d="M617.9,325 L620.4,324.2 L622.1,322.1 L625,321.2 L627.5,318.8 L629.2,317.1 L630.8,317.7 L630.4,316.2 L631.7,314.2 L634.2,311.2 L636.2,313.8 L639.6,315.4 L638.3,317.9 L636.2,318.8 L633.8,318.8 L631.7,319.6 L630.8,321.7 L629.2,324.2 L628.8,325.8 L625.8,325.4 L622.9,326.2 L620.4,327.5 L618.8,326.7Z"/>
<path fill="#66c2a4" d="M616.7,326.7 L617.9,325 L618.8,326.7 L620.4,327.5 L622.9,326.2 L625.8,325.4 L628.8,325.8 L629.2,324.2 L630.8,321.7 L631.7,319.6 L633.8,318.8 L636.2,318.8 L636.7,321.7 L637.9,325 L639.6,327.1 L637.1,328.3 L635.4,331.7 L634.6,335 L633.3,338.3 L630.8,340.4 L628.3,338.8 L625,338.8 L621.7,337.5 L619.2,336.7 L618.8,333.3 L616.7,330.8 L616.2,328.3Z"/>
<path fill="#66c2a4" d="M581.7,313.8 L583.8,313.3 L586.7,315 L590,317.1 L592.5,319.2 L595.8,322.9 L599.2,326.7 L602.5,330 L605.4,333.3 L608.8,336.7 L609.6,340 L609.3,344.2 L607.1,345.4 L604.2,343.3 L600.8,339.2 L597.5,333.3 L594.6,328.3 L592.1,324.2 L590,322.1 L586.7,318.8 L583.8,316.2Z"/>
<path fill="#66c2a4" d="M607,346.4 L612,345 L618,347 L624,348.4 L631,351 L629,352.4 L622,351.6 L615,350 L609,348.4Z"/>
<path fill="#66c2a4" d="M633.6,352 L639,351 L638.4,353 L634,353.6Z"/>
<path fill="#66c2a4" d="M641,351.6 L647.6,350.6 L647.2,352.4 L641.6,353.2Z"/>
<path fill="#66c2a4" d="M649,355 L653,352 L654.4,352.8 L651.6,356Z"/>
<path fill="#66c2a4" d="M639.2,336.7 L640.8,331.7 L642.5,327.5 L645.8,326.2 L650,327.1 L653.8,325.4 L653.3,327.5 L650,328.8 L646.7,329.2 L644.2,330.4 L646.7,332.1 L649.6,331.2 L648.8,332.9 L645.8,334.2 L647.1,337.5 L648.8,340.8 L649.2,343.3 L647.5,344.2 L645.8,340.8 L644.2,337.5 L642.5,336.7 L642.9,340.8 L642.5,344.2 L640.4,344.6 L640,340.8Z"/>
<path fill="#66c2a4" d="M659.4,325 L661,324 L662.4,329 L661,331.6 L659.6,329Z"/>
<path fill="#66c2a4" d="M656,338 L659,337.6 L658.6,339.2 L656,339.2Z"/>
<path fill="#66c2a4" d="M660,337.6 L665,337 L666,339 L661,339.2Z"/>
<path fill="#66c2a4" d="M667,332 L672,331 L675,334 L680,335 L685,334 L690.4,336 L690.4,353 L686,351.6 L682,350 L683,346 L680,342 L676,339 L672,340 L670,336 L668,334Z"/>
<path fill="#66c2a4" d="M639,282 L642.4,281 L644,285 L643,289 L646,292 L650,293 L653,296 L653.6,300 L651,298 L648,297 L645.6,296 L642,294 L640,290 L639,286Z"/>
<path fill="#66c2a4" d="M645,300 L648,299 L649,303 L646,303Z"/>
<path fill="#66c2a4" d="M650.4,301 L652.4,301.6 L653,305 L651,304.4Z"/>
<path fill="#66c2a4" d="M645.8,308.8 L648.3,307.5 L651.7,306.7 L654.2,304.2 L656.2,305.8 L656.7,310 L655.4,313.3 L653.8,314.6 L652.1,312.5 L649.6,310.8 L647.5,311.2 L645.8,310.4Z"/>
<path fill="#66c2a4" d="M634.2,307.1 L636.7,304.2 L639.2,300.8 L640,301.2 L637.9,305 L635.4,307.9Z"/>
<path fill="#b2e2e2" d="M621,389 L626,386 L632,383 L640,380 L645,375 L650,370 L655,367 L660,368 L664,363 L669,359 L675,361.6 L679.6,362.4 L676,368 L680,371.6 L685,376 L688,374 L690,366 L692.4,358.4 L694,362 L696,368 L698.4,374 L701,380 L704,386 L706.4,392 L709,397 L708,403 L705,409 L701,415 L696,421 L691,427 L686,430 L681,431 L676,432 L671,430.4 L668,427 L667.6,422 L668,417 L664,421 L661,418 L656,414 L650,413.6 L643,415 L636,418 L630,420 L623,421 L618,422 L616,419 L619,414 L620,408 L619,400 L620,394Z"/>
<path fill="#b2e2e2" d="M670,439 L675,437 L679.6,437.6 L677,442 L673,444.4 L670,443Z"/>
<path fill="#66c2a4" d="M742.4,420.4 L744,422 L744.4,427 L749.6,429.6 L747,433 L743,435 L739,438 L735.6,439.6 L735,437 L738,434 L741,430 L742.4,426Z"/>
<path fill="#66c2a4" d="M708,450 L713,447 L720,443.6 L727,440 L732.4,437 L733.6,439 L730,442 L724,445.6 L718,449 L713,452 L709,452.4Z"/>
<path fill="#edf8fb" d="M349,236 L358,238 L359.6,242 L358,245 L353,247 L348,250 L345,253 L342.4,257 L335,256.4 L340,252 L342,246 L345,241Z"/>
<path fill="#edf8fb" d="M419,247 L428,247 L435,249 L439,251.4 L441,250 L442.4,255 L440,253 L438,255 L441,260 L445,267 L446,271 L420,271 L419.6,260Z"/>
<path fill="#edf8fb" d="M370,296 L373,293.6 L380,293 L388,294 L394,295 L396,299 L394,304 L390,308 L387,313 L384,315.6 L380,318 L377,317 L374,314 L369,313 L369,306 L370,300Z"/>
<path fill="#b2e2e2" d="M363,301 L365.2,300.6 L366,307 L365.6,313 L363.6,313.4 L363.6,307Z"/>
<path fill="#edf8fb" d="M434.7,320.6 L438.8,320 L442.4,319.4 L443.5,325.3 L442.4,328.8 L441.2,332.4 L435.3,332.4 L431.8,331.8 L432.9,326.5Z"/>
<path fill="#edf8fb" d="M444.1,315.9 L446.5,317.1 L450.6,320 L454.7,320.6 L458.8,318.8 L457.6,324.1 L457.6,330 L458.8,333.5 L456.2,338.2 L454.7,340.6 L451.8,338.8 L447.1,335.9 L441.8,332.4 L442.4,328.8 L443.5,325.3 L442.4,320.6Z"/>
<path fill="#edf8fb" d="M421,378 L426,374 L431,371 L436,373 L438,378 L436,384 L433,388 L428,388 L424,383Z"/>
<path fill="#b2e2e2" d="M400,406 L407,401 L408,396 L410,399 L415,399 L418,396 L423,395 L426,391 L428,389 L434,389 L435,395 L436,400 L433,406 L430,411 L425,416 L419,418.4 L412,419.6 L406,421 L403,419 L402,413Z"/>
</g>
<g class="nd"><path d="M423,408 L426,405.6 L428,408 L425,410.4Z"/><path d="M432,399 L434.4,398 L435,400.4 L433,401.6Z"/></g>
<g class="wt"><path d="M460.6,211.8 L463.5,207.6 L468.2,206.1 L472.4,206.8 L471.8,210 L468.2,211.8 L469.4,214.7 L473.5,218.2 L477.6,219.4 L478.8,222.9 L478.2,227.1 L478.8,231.2 L475.3,231.8 L471.2,230.6 L469.4,227.1 L470,223.5 L468.2,220.6 L465.3,217.6 L462.9,214.7Z"/></g>
</g>

<g id="legend">
<text class="leg" x="268.5" y="511.6" text-anchor="middle" textLength="46.3" lengthAdjust="spacingAndGlyphs">No data</text>
<path d="M268.5,514.5 v3.5" stroke="#999" stroke-width=".6"/>
<rect x="244.3" y="518.2" width="48.4" height="10" fill="url(#hatch)" stroke="#bbb" stroke-width=".6"/>
<rect x="312.1" y="518.2" width="58.5" height="10" fill="#edf8fb"/>
<rect x="370.6" y="518.2" width="58.5" height="10" fill="#b2e2e2"/>
<rect x="429.1" y="518.2" width="58.5" height="10" fill="#66c2a4"/>
<rect x="487.6" y="518.2" width="58.5" height="10" fill="#2ca25f"/>
<path d="M546.1,518.2 h54 l5.4,5 l-5.4,5 h-54 z" fill="#006d2c"/>
<path d="M312.1,518.2 h288 l5.4,5 l-5.4,5 h-288 z" fill="none" stroke="#8a8a8a" stroke-opacity=".6" stroke-width=".5"/>
<path d="M312.1,514 v14.2 M370.6,514 v14.2 M429.1,514 v14.2 M487.6,514 v14.2 M546.1,514 v14.2" stroke="#777" stroke-opacity=".7" stroke-width=".6"/>
<text class="leg" x="312.3" y="511.6" text-anchor="middle">0</text>
<text class="leg" x="371.3" y="511.6" text-anchor="middle">10</text>
<text class="leg" x="429.8" y="511.6" text-anchor="middle">30</text>
<text class="leg" x="489" y="511.6" text-anchor="middle">100</text>
<text class="leg" x="547.2" y="511.6" text-anchor="middle">300</text>
</g>

<text class="foot" x="16" y="560.8" font-weight="700" style="fill:#6e6e6e" textLength="71.2" lengthAdjust="spacingAndGlyphs">Data source:</text>
<text class="foot" x="92.8" y="560.8" textLength="569.7" lengthAdjust="spacingAndGlyphs">United Nations Environment Programme and United Nations Conference on Trade and Development</text>
<text class="foot" x="16" y="580.8" textLength="178.5" lengthAdjust="spacingAndGlyphs">trade-and-globalization | CC BY</text>
</svg>
</body>
</html>
